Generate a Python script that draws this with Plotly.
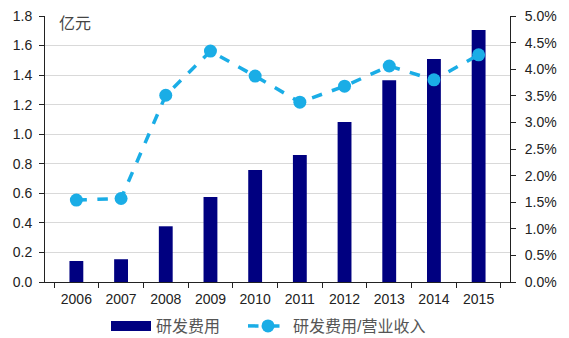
import plotly.graph_objects as go

years = ["2006", "2007", "2008", "2009", "2010", "2011", "2012", "2013", "2014", "2015"]
rd_expense = [0.142, 0.154, 0.377, 0.575, 0.758, 0.86, 1.083, 1.365, 1.509, 1.705]
rd_ratio = [0.0154, 0.0157, 0.0351, 0.0434, 0.0387, 0.0338, 0.0368, 0.0406, 0.0380, 0.0427]

left_ticks = [0.0, 0.2, 0.4, 0.6, 0.8, 1.0, 1.2, 1.4, 1.6, 1.8]
right_ticks = [0.0, 0.005, 0.01, 0.015, 0.02, 0.025, 0.03, 0.035, 0.04, 0.045, 0.05]

font_family = "Liberation Sans, Arial, Noto Sans CJK SC, sans-serif"
bar_color = "#000080"
line_color = "#1AADE6"

fig = go.Figure()
fig.add_trace(go.Bar(
    x=years, y=rd_expense, name="研发费用", showlegend=False,
    marker=dict(color=bar_color, line=dict(width=0)),
    width=0.31,
))
# legend swatch for the bar series (wide rectangle like the original)
fig.add_trace(go.Scatter(
    x=[None], y=[None], name="研发费用", mode="lines",
    line=dict(color=bar_color, width=10), legend="legend",
))
fig.add_trace(go.Scatter(
    x=years, y=rd_ratio, name="研发费用/营业收入", yaxis="y2",
    mode="lines+markers",
    line=dict(color=line_color, width=3.5, dash="dash"),
    marker=dict(color=line_color, size=13), legend="legend2",
))

legend_common = dict(orientation="h", xanchor="left", xref="container",
                     y=12 / 338, yanchor="middle", yref="container",
                     font=dict(size=16, color="#555"), itemwidth=40,
                     bgcolor="rgba(0,0,0,0)")

fig.update_layout(
    width=569, height=338,
    margin=dict(l=45, r=59, t=16, b=56, autoexpand=False),
    paper_bgcolor="white", plot_bgcolor="white",
    font=dict(family=font_family, size=14, color="#222"),
    showlegend=True,
    legend=dict(x=106 / 569, **legend_common),
    legend2=dict(x=243 / 569, **legend_common),
    xaxis=dict(
        type="category", showline=True, linecolor="#222", linewidth=1,
        ticks="outside", tickson="boundaries", ticklen=5, tickcolor="#222",
        showgrid=False, tickfont=dict(size=14, color="#222"), ticklabelstandoff=4,
    ),
    yaxis=dict(
        range=[0, 1.8], tickvals=left_ticks, ticktext=[f"{v:.1f}" for v in left_ticks],
        showline=True, linecolor="#222", linewidth=1, ticks="outside", ticklen=5,
        tickcolor="#222", showgrid=True, gridcolor="#D9D9D9", gridwidth=1,
        zeroline=False, tickfont=dict(size=14, color="#222"), ticklabelstandoff=4,
    ),
    yaxis2=dict(
        range=[0, 0.05], tickvals=right_ticks, ticktext=[f"{v*100:.1f}%" for v in right_ticks],
        overlaying="y", side="right", showline=True, linecolor="#222", linewidth=1,
        ticks="outside", ticklen=5, tickcolor="#222", showgrid=False, zeroline=False,
        tickfont=dict(size=14, color="#222"), ticklabelstandoff=6,
    ),
    annotations=[dict(
        text="亿元", xref="paper", yref="paper", x=0.025, y=1.01, xanchor="left", yanchor="top",
        showarrow=False, font=dict(size=16, color="#444"),
    )],
)

fig.write_html("out.html")
